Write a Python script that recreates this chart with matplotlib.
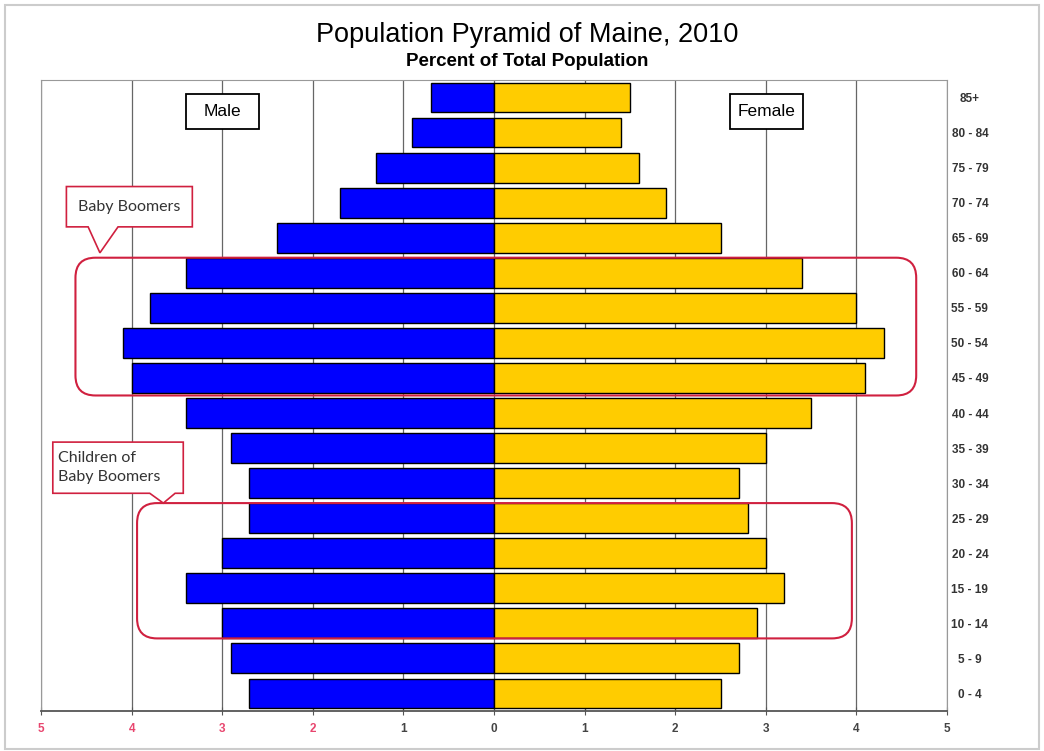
import matplotlib.pyplot as plt
from matplotlib.patches import FancyBboxPatch, Polygon, Rectangle

ages = ['85+', '80 - 84', '75 - 79', '70 - 74', '65 - 69', '60 - 64', '55 - 59',
        '50 - 54', '45 - 49', '40 - 44', '35 - 39', '30 - 34', '25 - 29',
        '20 - 24', '15 - 19', '10 - 14', '5 - 9', '0 - 4']
male = [0.7, 0.9, 1.3, 1.7, 2.4, 3.4, 3.8, 4.1, 4.0, 3.4, 2.9, 2.7, 2.7,
        3.0, 3.4, 3.0, 2.9, 2.7]
female = [1.5, 1.4, 1.6, 1.9, 2.5, 3.4, 4.0, 4.3, 4.1, 3.5, 3.0, 2.7, 2.8,
          3.0, 3.2, 2.9, 2.7, 2.5]
xticks = [-5, -4, -3, -2, -1, 0, 1, 2, 3, 4, 5]

plt.rcParams['font.family'] = ['Liberation Sans', 'DejaVu Sans']

# youngest group at the bottom
ages = ages[::-1]
male = male[::-1]
female = female[::-1]
ypos = list(range(len(ages)))

fig = plt.figure(figsize=(10.44, 7.51), dpi=100)
ax = fig.add_axes([0.0393, 0.0533, 0.8678, 0.8402])

ax.barh(ypos, [-m for m in male], height=0.85, color='#0000ff', edgecolor='black', linewidth=1, zorder=3)
ax.barh(ypos, female, height=0.85, color='#ffcc00', edgecolor='black', linewidth=1, zorder=3)

ax.set_xlim(-5, 5)
ax.set_ylim(-0.5, len(ages) - 0.5)
ax.set_xticks(xticks)
ax.set_xticklabels([str(abs(t)) for t in xticks], fontsize=8.5, weight='bold')
for t, lab in zip(xticks, ax.get_xticklabels()):
    lab.set_color('#e8456e' if t <= -2 else '#444444')
ax.tick_params(axis='x', direction='inout', length=6, color='#555555', pad=6)

ax.yaxis.tick_right()
ax.set_yticks(ypos)
ax.set_yticklabels(ages, fontsize=8.5, color='#333333', weight='bold')
ax.tick_params(axis='y', length=0, pad=16.5)
for lab in ax.get_yticklabels():
    lab.set_horizontalalignment('center')

ax.grid(axis='x', color='#666666', linewidth=0.9, zorder=0)
for s in ['left', 'top', 'right']:
    ax.spines[s].set_color('#999999')
ax.spines['bottom'].set_color('#555555')
ax.spines['bottom'].set_linewidth(1.3)

# sex labels
for x0, label in [(-3.40, 'Male'), (2.60, 'Female')]:
    ax.add_patch(Rectangle((x0, 16.11), 0.81, 1.0, facecolor='white', edgecolor='black',
                           linewidth=1.3, zorder=4))
    ax.text(x0 + 0.405, 16.6, label, ha='center', va='center', fontsize=12.5, zorder=5)

# generation outlines
red = '#d0203f'
ax.add_patch(FancyBboxPatch((-4.62, 8.5), 9.28, 3.93, boxstyle='round,pad=0,rounding_size=0.22',
                            mutation_aspect=2.6, fill=False, edgecolor=red, linewidth=1.5, zorder=5))
ax.add_patch(FancyBboxPatch((-3.94, 1.57), 7.89, 3.86, boxstyle='round,pad=0,rounding_size=0.22',
                            mutation_aspect=2.6, fill=False, edgecolor=red, linewidth=1.5, zorder=5))

# callouts
bb = [(-4.72, 14.46), (-3.33, 14.46), (-3.33, 13.31), (-4.15, 13.31), (-4.35, 12.57),
      (-4.48, 13.31), (-4.72, 13.31)]
ax.add_patch(Polygon(bb, closed=True, facecolor='white', edgecolor=red, linewidth=1.2, zorder=6))
ax.text(-4.03, 13.88, 'Baby Boomers', ha='center', va='center', fontsize=11.5,
        family=['Lato', 'DejaVu Sans'], color='#333333', zorder=7)

cb = [(-4.87, 7.17), (-3.43, 7.17), (-3.43, 5.71), (-3.52, 5.71), (-3.65, 5.43),
      (-3.80, 5.71), (-4.87, 5.71)]
ax.add_patch(Polygon(cb, closed=True, facecolor='white', edgecolor=red, linewidth=1.2, zorder=6))
ax.text(-4.81, 6.44, 'Children of\nBaby Boomers', ha='left', va='center', fontsize=11.5,
        family=['Lato', 'DejaVu Sans'], color='#333333', linespacing=1.45, zorder=7)

fig.text(0.505, 0.954, 'Population Pyramid of Maine, 2010', ha='center', va='center', fontsize=19.5)
fig.text(0.505, 0.918, 'Percent of Total Population', ha='center', va='center', fontsize=13.5, weight='bold')

fig.patches.append(Rectangle((0.005, 0.003), 0.99, 0.99, transform=fig.transFigure, fill=False,
                             edgecolor='#cccccc', linewidth=1.5))

fig.savefig('out.png', dpi=100)
